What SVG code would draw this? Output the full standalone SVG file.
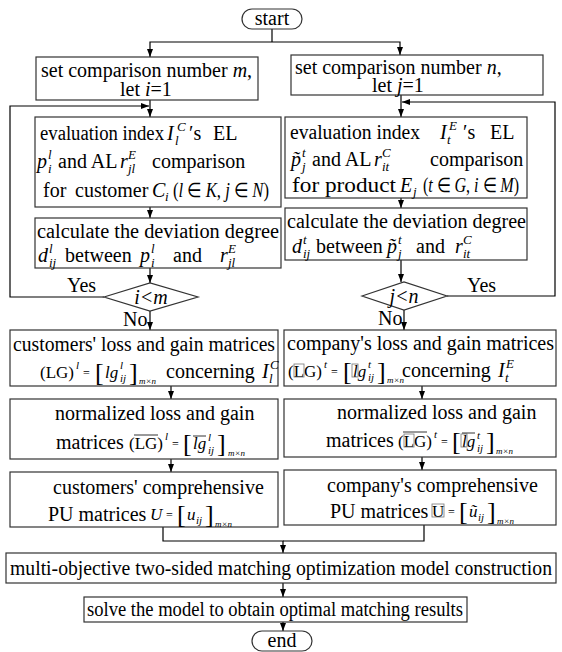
<svg xmlns="http://www.w3.org/2000/svg" width="562" height="652" viewBox="0 0 562 652">
<style>
text{font-family:"Liberation Serif","Times New Roman",serif;font-size:20px;fill:#000}
.i{font-style:italic}
.s{font-size:13px}
.f{font-size:17px}
.x{font-size:11px}
.m{font-size:9px}
.e{font-size:12px}
.b{font-size:26px}
.box{fill:#fff;stroke:#333;stroke-width:1.2}
.ln{fill:none;stroke:#000;stroke-width:1.2}
.ov{stroke:#000;stroke-width:0.8}
.tofu{fill:none;stroke:#777;stroke-width:0.8}
</style>
<defs>
<marker id="ah" markerWidth="8" markerHeight="8" refX="8" refY="4" orient="auto" markerUnits="userSpaceOnUse"><path d="M0,1 L8,4 L0,7 z" fill="#000"/></marker>
</defs>

<g id="connectors">
<polyline class="ln" points="272,29 272,42"/>
<polyline class="ln" points="272,42 150,42 150,57" marker-end="url(#ah)"/>
<polyline class="ln" points="272,42 400,42 400,55" marker-end="url(#ah)"/>
<line class="ln" x1="150" y1="100" x2="150" y2="117" marker-end="url(#ah)"/>
<polyline class="ln" points="104,297 10,297 10,106 149,106" marker-end="url(#ah)"/>
<line class="ln" x1="150" y1="207" x2="150" y2="218" marker-end="url(#ah)"/>
<line class="ln" x1="150" y1="268" x2="150" y2="283" marker-end="url(#ah)"/>
<line class="ln" x1="150" y1="311" x2="150" y2="330" marker-end="url(#ah)"/>
<line class="ln" x1="171" y1="386" x2="171" y2="399" marker-end="url(#ah)"/>
<line class="ln" x1="171" y1="459" x2="171" y2="472" marker-end="url(#ah)"/>
<polyline class="ln" points="163,527 163,541 283,541 283,553" marker-end="url(#ah)"/>
<polyline class="ln" points="424,525 424,541 283,541"/>
<line class="ln" x1="401" y1="95" x2="401" y2="117" marker-end="url(#ah)"/>
<polyline class="ln" points="447,296 555,296 555,102 402,102" marker-end="url(#ah)"/>
<line class="ln" x1="401" y1="198" x2="401" y2="208" marker-end="url(#ah)"/>
<line class="ln" x1="401" y1="260" x2="401" y2="282" marker-end="url(#ah)"/>
<line class="ln" x1="404" y1="310" x2="404" y2="330" marker-end="url(#ah)"/>
<line class="ln" x1="422" y1="386" x2="422" y2="399" marker-end="url(#ah)"/>
<line class="ln" x1="422" y1="457" x2="422" y2="470" marker-end="url(#ah)"/>
<line class="ln" x1="283" y1="583" x2="283" y2="597" marker-end="url(#ah)"/>
<line class="ln" x1="283" y1="622" x2="283" y2="631" marker-end="url(#ah)"/>
<text x="67" y="292">Yes</text>
<text x="123" y="326">No</text>
<text x="467" y="292">Yes</text>
<text x="378" y="325">No</text>
</g>

<g id="start">
<rect class="box" x="242" y="9" width="60" height="20" rx="10"/>
<text x="272" y="25" text-anchor="middle">start</text>
</g>

<g id="L1">
<rect class="box" x="36" y="57" width="222" height="43"/>
<text x="41" y="77">set comparison number <tspan class="i">m</tspan>,</text>
<text x="120" y="96">let <tspan class="i">i</tspan>=1</text>
</g>

<g id="R1">
<rect class="box" x="291" y="55" width="252" height="40"/>
<text x="295" y="74">set comparison number <tspan class="i">n</tspan>,</text>
<text x="372" y="92">let <tspan class="i">j</tspan>=1</text>
</g>

<g id="L2">
<rect class="box" x="35" y="117" width="246" height="90"/>
<text x="40" y="140" textLength="124" lengthAdjust="spacingAndGlyphs">evaluation index</text>
<text x="167" y="140" class="i">I</text>
<text x="177" y="131" class="i s">C</text>
<text x="175" y="145" class="i s">l</text>
<text x="189" y="140">′s</text>
<text x="213" y="140">EL</text>
<text x="37" y="168" class="i">p</text>
<text x="48" y="159" class="i s">l</text>
<text x="48" y="173" class="i s">i</text>
<text x="58" y="168">and AL</text>
<text x="120" y="168" class="i">r</text>
<text x="128" y="159" class="i s">E</text>
<text x="128" y="173" class="i s">jl</text>
<text x="152" y="168">comparison</text>
<text x="43" y="197">for</text>
<text x="75" y="197">customer</text>
<text x="152" y="197" class="i">C</text>
<text x="165" y="201" class="i s">i</text>
<text x="173" y="197" textLength="96" lengthAdjust="spacingAndGlyphs">(<tspan class="i">l</tspan> ∈ <tspan class="i">K</tspan>, <tspan class="i">j</tspan> ∈ <tspan class="i">N</tspan>)</text>
</g>

<g id="L3">
<rect class="box" x="35" y="218" width="246" height="50"/>
<text x="37" y="238" textLength="242" lengthAdjust="spacingAndGlyphs">calculate the deviation degree</text>
<text x="38" y="262" class="i">d</text>
<text x="49" y="253" class="i s">l</text>
<text x="49" y="267" class="i s">ij</text>
<text x="65" y="262">between</text>
<text x="140" y="262" class="i">p</text>
<text x="151" y="253" class="i s">l</text>
<text x="151" y="267" class="i s">i</text>
<text x="173" y="262">and</text>
<text x="220" y="262" class="i">r</text>
<text x="228" y="253" class="i s">E</text>
<text x="228" y="267" class="i s">jl</text>
</g>

<g id="Ldec">
<polygon class="box" points="104,297 150,283 198,297 150,311"/>
<text x="151" y="304" text-anchor="middle" class="i">i&lt;m</text>
</g>

<g id="L4">
<rect class="box" x="10" y="330" width="268" height="56"/>
<text x="13" y="351" textLength="262" lengthAdjust="spacingAndGlyphs">customers' loss and gain matrices</text>
<text x="40" y="378" class="f">(LG)</text>
<text x="76" y="369" class="i x">l</text>
<text x="83" y="377" class="e">=</text>
<text x="95" y="381" class="b">[</text>
<text x="105" y="378" class="i f">lg</text>
<text x="120" y="369" class="i x">l</text>
<text x="120" y="382" class="i x">ij</text>
<text x="129" y="381" class="b">]</text>
<text x="139" y="384" class="i m">m×n</text>
<text x="166" y="378">concerning</text>
<text x="262" y="378" class="i">I</text>
<text x="270" y="369" class="i s">C</text>
<text x="269" y="383" class="i s">l</text>
</g>

<g id="L5">
<rect class="box" x="10" y="399" width="268" height="60"/>
<text x="55" y="420">normalized loss and gain</text>
<text x="56" y="449">matrices</text>
<text x="129" y="449" class="f">(LG)</text>
<line class="ov" x1="134" y1="435" x2="158" y2="435"/>
<text x="165" y="440" class="i x">l</text>
<text x="172" y="448" class="e">=</text>
<text x="183" y="452" class="b">[</text>
<text x="193" y="449" class="i f">lg</text>
<line class="ov" x1="193" y1="436" x2="206" y2="436"/>
<text x="208" y="441" class="i x">l</text>
<text x="208" y="454" class="i x">ij</text>
<text x="217" y="452" class="b">]</text>
<text x="228" y="456" class="i m">m×n</text>
</g>

<g id="L6">
<rect class="box" x="10" y="472" width="268" height="55"/>
<text x="53" y="494">customers' comprehensive</text>
<text x="48" y="521">PU matrices</text>
<text x="150" y="520" class="i f">U</text>
<text x="166" y="519" class="e">=</text>
<text x="177" y="523" class="b">[</text>
<text x="187" y="520" class="i f">u</text>
<text x="196" y="524" class="i x">ij</text>
<text x="205" y="523" class="b">]</text>
<text x="215" y="527" class="i m">m×n</text>
</g>

<g id="R2">
<rect class="box" x="285" y="117" width="242" height="81"/>
<text x="290" y="139" textLength="130" lengthAdjust="spacingAndGlyphs">evaluation index</text>
<text x="440" y="139" class="i">I</text>
<text x="449" y="130" class="i s">E</text>
<text x="447" y="144" class="i s">t</text>
<text x="463" y="139">′s</text>
<text x="490" y="139">EL</text>
<text x="291" y="166" class="i">p̃</text>
<text x="302" y="157" class="i s">t</text>
<text x="302" y="171" class="i s">j</text>
<text x="312" y="166">and AL</text>
<text x="374" y="166" class="i">r</text>
<text x="382" y="157" class="i s">C</text>
<text x="382" y="171" class="i s">it</text>
<text x="430" y="166">comparison</text>
<text x="292" y="192" textLength="104" lengthAdjust="spacingAndGlyphs">for product</text>
<text x="400" y="192" class="i">E</text>
<text x="413" y="196" class="i s">j</text>
<text x="423" y="192" textLength="96" lengthAdjust="spacingAndGlyphs">(<tspan class="i">t</tspan> ∈ <tspan class="i">G</tspan>, <tspan class="i">i</tspan> ∈ <tspan class="i">M</tspan>)</text>
</g>

<g id="R3">
<rect class="box" x="285" y="208" width="242" height="52"/>
<text x="287" y="228" textLength="239" lengthAdjust="spacingAndGlyphs">calculate the deviation degree</text>
<text x="292" y="253" class="i">d</text>
<text x="303" y="244" class="i s">t</text>
<text x="303" y="258" class="i s">ij</text>
<text x="316" y="253">between</text>
<text x="387" y="253" class="i">p̃</text>
<text x="398" y="244" class="i s">t</text>
<text x="398" y="258" class="i s">j</text>
<text x="416" y="253">and</text>
<text x="455" y="253" class="i">r</text>
<text x="463" y="244" class="i s">C</text>
<text x="463" y="258" class="i s">it</text>
</g>

<g id="Rdec">
<polygon class="box" points="362,296 404,282 447,296 404,310"/>
<text x="404" y="303" text-anchor="middle" class="i">j&lt;n</text>
</g>

<g id="R4">
<rect class="box" x="284" y="330" width="272" height="56"/>
<text x="287" y="350" textLength="267" lengthAdjust="spacingAndGlyphs">company's loss and gain matrices</text>
<text x="288" y="377" class="f">(LG)</text>
<rect class="tofu" x="294" y="364" width="10" height="13"/>
<text x="324" y="368" class="i x">t</text>
<text x="331" y="376" class="e">=</text>
<text x="343" y="380" class="b">[</text>
<text x="353" y="377" class="i f">lg</text>
<rect class="tofu" x="352" y="364" width="6" height="13"/>
<text x="368" y="368" class="i x">t</text>
<text x="368" y="381" class="i x">ij</text>
<text x="377" y="380" class="b">]</text>
<text x="387" y="383" class="i m">m×n</text>
<text x="402" y="377">concerning</text>
<text x="498" y="377" class="i">I</text>
<text x="506" y="368" class="i s">E</text>
<text x="505" y="382" class="i s">t</text>
</g>

<g id="R5">
<rect class="box" x="284" y="399" width="272" height="58"/>
<text x="337" y="419">normalized loss and gain</text>
<text x="326" y="447">matrices</text>
<text x="398" y="447" class="f">(LG)</text>
<rect class="tofu" x="404" y="434" width="10" height="13"/>
<line class="ov" x1="403" y1="432" x2="427" y2="432"/>
<text x="434" y="438" class="i x">t</text>
<text x="441" y="446" class="e">=</text>
<text x="452" y="450" class="b">[</text>
<text x="462" y="447" class="i f">lg</text>
<rect class="tofu" x="461" y="434" width="6" height="13"/>
<line class="ov" x1="462" y1="433" x2="475" y2="433"/>
<text x="477" y="439" class="i x">t</text>
<text x="477" y="452" class="i x">ij</text>
<text x="486" y="450" class="b">]</text>
<text x="496" y="454" class="i m">m×n</text>
</g>

<g id="R6">
<rect class="box" x="284" y="470" width="272" height="55"/>
<text x="327" y="492">company's comprehensive</text>
<text x="330" y="518">PU matrices</text>
<text x="432" y="517" class="f">U</text>
<rect class="tofu" x="432" y="504" width="12" height="13"/>
<text x="448" y="516" class="e">=</text>
<text x="459" y="520" class="b">[</text>
<text x="469" y="517" class="i f">ũ</text>
<text x="478" y="521" class="i x">ij</text>
<text x="487" y="520" class="b">]</text>
<text x="497" y="524" class="i m">m×n</text>
</g>

<g id="B7">
<rect class="box" x="6" y="553" width="550" height="30"/>
<text x="281" y="575" text-anchor="middle" textLength="542" lengthAdjust="spacingAndGlyphs">multi-objective two-sided matching optimization model construction</text>
</g>

<g id="B8">
<rect class="box" x="84" y="597" width="383" height="25"/>
<text x="275" y="616" text-anchor="middle" textLength="376" lengthAdjust="spacingAndGlyphs">solve the model to obtain optimal matching results</text>
</g>

<g id="end">
<rect class="box" x="252" y="631" width="60" height="20" rx="10"/>
<text x="282" y="647" text-anchor="middle">end</text>
</g>
</svg>
